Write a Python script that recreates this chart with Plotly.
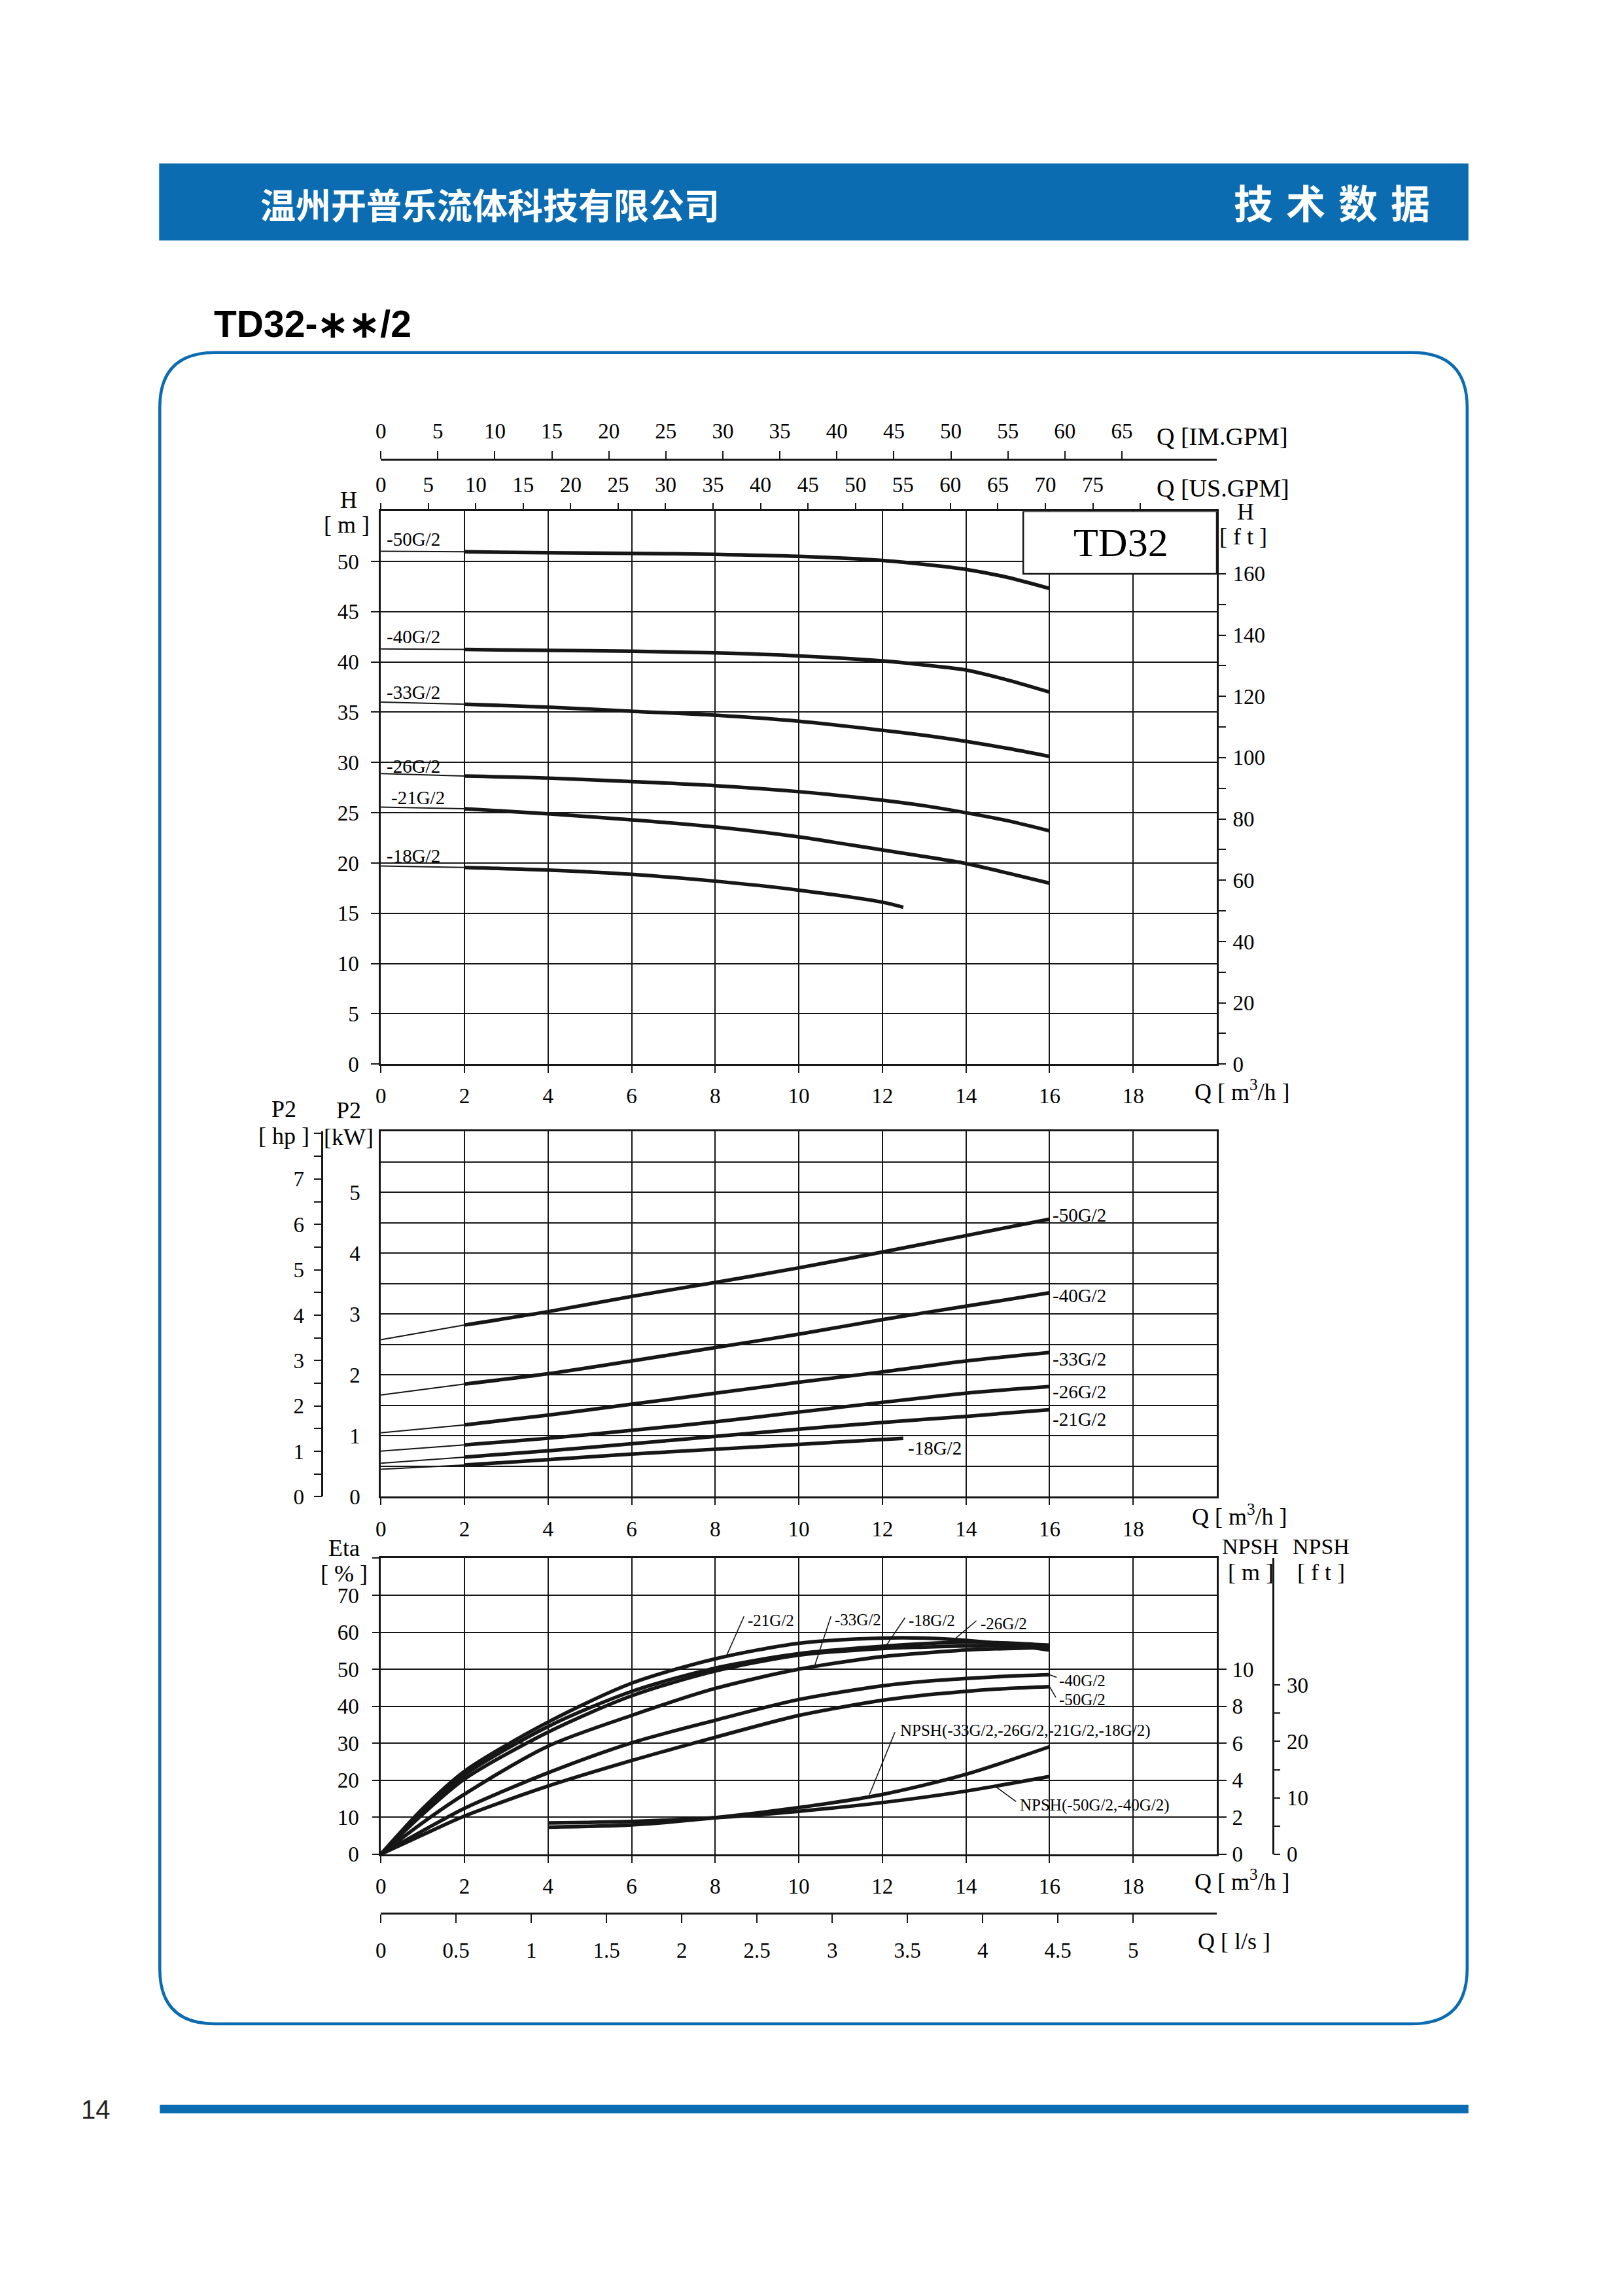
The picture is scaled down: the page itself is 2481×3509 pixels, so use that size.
import plotly.graph_objects as go

# the browser keeps its 8px body margin, so the figure is the page minus that border
PAGE_W, PAGE_H = 2481, 3509
PAD = 8
W, H = PAGE_W - 2 * PAD, PAGE_H - 2 * PAD

def px(x):
    return (x - PAD) / W

def py(y):
    return 1 - (y - PAD) / H

# ---------------- data ----------------
# head curves, Q in m3/h, H in m
q_h = [0, 2, 4, 6, 8, 10, 12, 13, 14, 15, 16]
h_50 = [51.0, 50.95, 50.86, 50.8, 50.7, 50.5, 50.1, 49.7, 49.2, 48.4, 47.3]
h_40 = [41.3, 41.24, 41.15, 41.06, 40.9, 40.6, 40.1, 39.7, 39.2, 38.2, 37.0]
h_33 = [36.0, 35.8, 35.5, 35.1, 34.7, 34.1, 33.2, 32.7, 32.1, 31.4, 30.6]
h_26 = [28.9, 28.65, 28.45, 28.1, 27.7, 27.1, 26.25, 25.7, 25.0, 24.2, 23.2]
h_21 = [25.56, 25.4, 24.9, 24.3, 23.6, 22.6, 21.3, 20.65, 19.95, 19.0, 18.0]
q_h18 = [0, 2, 4, 6, 8, 10, 12, 12.5]
h_18 = [19.7, 19.56, 19.3, 18.87, 18.2, 17.3, 16.1, 15.6]

# shaft power, kW
q_p = [0, 2, 4, 6, 8, 10, 12, 14, 16]
p_50 = [2.58, 2.82, 3.04, 3.29, 3.52, 3.76, 4.02, 4.29, 4.56]
p_40 = [1.67, 1.85, 2.02, 2.23, 2.45, 2.67, 2.91, 3.13, 3.35]
p_33 = [1.05, 1.18, 1.34, 1.52, 1.70, 1.88, 2.05, 2.23, 2.37]
p_26 = [0.75, 0.85, 0.96, 1.09, 1.23, 1.39, 1.55, 1.70, 1.81]
p_21 = [0.55, 0.65, 0.755, 0.87, 0.99, 1.11, 1.22, 1.32, 1.43]
q_p18 = [0, 2, 4, 6, 8, 10, 12, 12.5]
p_18 = [0.45, 0.52, 0.61, 0.70, 0.78, 0.86, 0.94, 0.96]

# efficiency, %
q_e = [0, 1, 2, 4, 6, 8, 10, 12, 13, 14, 15, 16]
eta_21 = [0, 12.3, 22.4, 35.7, 46.2, 52.8, 57.0, 58.4, 58.4, 57.8, 56.7, 55.2]
eta_26 = [0, 11.3, 21.4, 34.5, 44.0, 50.3, 54.2, 56.2, 56.9, 57.3, 57.1, 56.5]
eta_18 = [0, 10.8, 20.3, 33.0, 42.8, 49.5, 53.8, 55.6, 56.0, 56.3, 56.4, 56.3]
eta_33 = [0, 8.5, 16.2, 29.2, 37.5, 44.8, 50.0, 53.4, 54.4, 55.2, 55.6, 55.9]
eta_40 = [0, 6.3, 12.4, 22.0, 30.1, 36.2, 41.8, 45.5, 46.7, 47.5, 48.1, 48.5]
eta_50 = [0, 5.2, 10.3, 18.4, 25.3, 31.6, 37.5, 41.6, 43.0, 44.0, 44.8, 45.3]

# NPSH, m
q_n = [4, 6, 8, 10, 12, 14, 16]
npsh_small = [1.46, 1.58, 1.97, 2.52, 3.23, 4.32, 5.81]   # -33G/2 .. -18G/2
npsh_big = [1.69, 1.77, 1.97, 2.32, 2.79, 3.41, 4.2]      # -50G/2, -40G/2

q_ticks = [0, 2, 4, 6, 8, 10, 12, 14, 16, 18]
usgpm_ticks = list(range(0, 85, 5))
imgpm_ticks = list(range(0, 70, 5))
ls_ticks = [0, 0.5, 1, 1.5, 2, 2.5, 3, 3.5, 4, 4.5, 5]
ls_text = ["0", "0.5", "1", "1.5", "2", "2.5", "3", "3.5", "4", "4.5", "5"]

# ---------------- style ----------------
ink = "#161616"
blue = "#0b6cb1"
serif = "Liberation Serif"
thin, thick = 2, 5.5

# plot areas in page pixels
X0, X1 = 576, 1858
H_TOP, H_BOT = 772, 1626
P_TOP, P_BOT = 1730, 2294
E_TOP, E_BOT = 2389, 2846
xdom = [px(X0), px(X1)]

fig = go.Figure()

def curve(q, v, xa, ya, split=True):
    if split:
        fig.add_trace(go.Scatter(x=q[:2], y=v[:2], mode="lines", xaxis=xa, yaxis=ya,
                                 line=dict(color=ink, width=thin), hoverinfo="skip", showlegend=False))
        q, v = q[1:], v[1:]
    fig.add_trace(go.Scatter(x=q, y=v, mode="lines", xaxis=xa, yaxis=ya,
                             line=dict(color=ink, width=thick, shape="spline", smoothing=0.8),
                             hoverinfo="skip", showlegend=False))

for v in [h_50, h_40, h_33, h_26, h_21]:
    curve(q_h, v, "x", "y")
curve(q_h18, h_18, "x", "y")

for v in [p_50, p_40, p_33, p_26, p_21]:
    curve(q_p, v, "x4", "y3")
curve(q_p18, p_18, "x4", "y3")

for v in [eta_21, eta_26, eta_18, eta_33, eta_40, eta_50]:
    curve(q_e, v, "x5", "y5", split=False)
curve(q_n, npsh_small, "x5", "y6", split=False)
curve(q_n, npsh_big, "x5", "y6", split=False)

# empty traces so that the secondary unit scales get drawn
for xa, ya in [("x2", "y"), ("x3", "y"), ("x", "y2"), ("x4", "y4"), ("x5", "y7"), ("x6", "y5")]:
    fig.add_trace(go.Scatter(x=[], y=[], xaxis=xa, yaxis=ya, mode="lines",
                             hoverinfo="skip", showlegend=False))

tickfont = dict(family=serif, size=33, color="black")
base = dict(showline=True, linecolor=ink, linewidth=2.5, mirror=True, showgrid=True,
            gridcolor=ink, gridwidth=2, zeroline=False, tickfont=tickfont,
            ticks="outside", tickcolor=ink, tickwidth=2, fixedrange=True)
over = dict(showline=False, showgrid=False, zeroline=False, tickfont=tickfont,
            ticks="outside", tickcolor=ink, tickwidth=2)
free = dict(showline=True, linecolor=ink, linewidth=2.5, showgrid=False, zeroline=False,
            tickfont=tickfont, ticks="outside", tickcolor=ink, tickwidth=2)

fig.update_layout(
    width=W, height=H, margin=dict(l=0, r=0, t=0, b=0),
    paper_bgcolor="white", plot_bgcolor="white", showlegend=False,
    # head chart
    xaxis=dict(base, domain=xdom, anchor="y", range=[0, 20], tickvals=q_ticks, ticklen=11,
               ticklabelstandoff=6),
    yaxis=dict(base, domain=[py(H_BOT), py(H_TOP)], anchor="x", range=[0, 55],
               tickvals=list(range(0, 55, 5)), ticklen=12, ticklabelstandoff=12),
    xaxis2=dict(over, overlaying="x", anchor="y", side="top", range=[0, 20 * 4.40287],
                tickvals=usgpm_ticks, ticktext=[str(v) if v < 80 else " " for v in usgpm_ticks],
                ticklen=11, ticklabelstandoff=4),
    xaxis3=dict(free, overlaying="x", anchor="free", position=py(692), side="top",
                range=[0, 20 * 3.66615], tickvals=imgpm_ticks, ticklen=12, ticklabelstandoff=6),
    yaxis2=dict(over, overlaying="y", anchor="x", side="right", range=[0, 55 / 0.3048],
                tickvals=list(range(0, 180, 20)), ticklen=13, ticklabelstandoff=4,
                minor=dict(tickvals=list(range(10, 160, 20)), ticks="outside", ticklen=13,
                           tickcolor=ink, tickwidth=2, showgrid=False)),
    # power chart
    xaxis4=dict(base, domain=xdom, anchor="y3", range=[0, 20], tickvals=q_ticks, ticklen=10,
                ticklabelstandoff=8),
    yaxis3=dict(base, domain=[py(P_BOT), py(P_TOP)], anchor="x4", range=[0, 6],
                tickvals=[i * 0.5 for i in range(13)],
                ticktext=[str(i // 2) if i % 2 == 0 and i < 12 else " " for i in range(13)],
                ticks="", ticklabelstandoff=22),
    yaxis4=dict(free, overlaying="y3", anchor="free", position=px(486), side="left",
                range=[0, 6 / 0.7457], tickvals=[i * 0.5 for i in range(17)],
                ticktext=[str(i // 2) if i % 2 == 0 and i < 16 else " " for i in range(17)],
                ticklen=12, ticklabelstandoff=8),
    # efficiency / NPSH chart
    xaxis5=dict(base, domain=xdom, anchor="y5", range=[0, 20], tickvals=q_ticks, ticklen=10,
                ticklabelstandoff=8),
    yaxis5=dict(base, domain=[py(E_BOT), py(E_TOP)], anchor="x5", range=[0, 80],
                tickvals=list(range(0, 90, 10)),
                ticktext=[str(v) if v < 80 else " " for v in range(0, 90, 10)],
                ticklen=10, ticklabelstandoff=14),
    yaxis6=dict(over, overlaying="y5", anchor="x5", side="right", range=[0, 16],
                tickvals=[0, 2, 4, 6, 8, 10], ticklen=14, ticklabelstandoff=2),
    yaxis7=dict(free, overlaying="y5", anchor="free", position=px(1944), side="right",
                range=[0, 16 / 0.3048], tickvals=[0, 5, 10, 15, 20, 25, 30],
                ticktext=["0", " ", "10", " ", "20", " ", "30"], ticklen=10, ticklabelstandoff=3),
    xaxis6=dict(free, overlaying="x5", anchor="free", position=py(2937), side="bottom",
                range=[0, 20 / 3.6], tickvals=ls_ticks, ticktext=ls_text,
                ticklen=13, ticklabelstandoff=14),
)

# ---------------- page decoration ----------------
shapes = []
shapes.append(dict(type="rect", xref="paper", yref="paper", x0=px(236), x1=px(2244),
                   y0=py(354), y1=py(235), fillcolor=blue, line=dict(width=0), layer="below"))
shapes.append(dict(type="rect", xref="paper", yref="paper", x0=px(237), x1=px(2244),
                   y0=py(3246), y1=py(3233), fillcolor=blue, line=dict(width=0), layer="below"))

def rounded(x0, y0, x1, y1, r):
    return (f"M {px(x0 + r)},{py(y0)} L {px(x1 - r)},{py(y0)} "
            f"Q {px(x1)},{py(y0)} {px(x1)},{py(y0 + r)} L {px(x1)},{py(y1 - r)} "
            f"Q {px(x1)},{py(y1)} {px(x1 - r)},{py(y1)} L {px(x0 + r)},{py(y1)} "
            f"Q {px(x0)},{py(y1)} {px(x0)},{py(y1 - r)} L {px(x0)},{py(y0 + r)} "
            f"Q {px(x0)},{py(y0)} {px(x0 + r)},{py(y0)} Z")

shapes.append(dict(type="path", xref="paper", yref="paper", path=rounded(237, 527, 2242, 3108, 85),
                   line=dict(color=blue, width=4.5), layer="below"))

# TD32 name box in the head chart
shapes.append(dict(type="rect", xref="x", yref="y", x0=15.37, x1=20, y0=160 * 0.3048, y1=55,
                   fillcolor="white", line=dict(color=ink, width=2.5), layer="above"))

# leader lines in the efficiency chart
leaders = [(8.26, 53.4, 8.69, 64.3), (10.37, 50.6, 10.77, 64.3), (12.05, 55.7, 12.54, 63.9),
           (13.64, 57.3, 14.25, 63.1), (16.0, 48.5, 16.17, 47.8), (16.0, 45.3, 16.15, 42.4),
           (11.69, 16.1, 12.3, 33.0), (14.73, 18.1, 15.2, 14.2)]
for xa, ya, xb, yb in leaders:
    shapes.append(dict(type="line", xref="x5", yref="y5", x0=xa, y0=ya, x1=xb, y1=yb,
                       line=dict(color=ink, width=1.6), layer="above"))

fig.update_layout(shapes=shapes)

ann = []

def t(text, x, y, size=32, xanchor="center", yanchor="middle", xref="paper", yref="paper",
      family=serif, color="black"):
    if xref == "paper":
        x = px(x)
    if yref == "paper":
        y = py(y)
    ann.append(dict(text=text, x=x, y=y, xref=xref, yref=yref, xanchor=xanchor, yanchor=yanchor,
                    showarrow=False, font=dict(family=family, size=size, color=color)))

cjk = "Noto Sans CJK SC"
t("<b>温州开普乐流体科技有限公司</b>", 389, 297, size=54, xanchor="left", family=cjk, color="white")
for ch, cx in zip("技术数据", [1914, 1994, 2075, 2155]):
    t(f"<b>{ch}</b>", cx, 293, size=60, family=cjk, color="white")
t("<b>TD32-∗∗/2</b>", 318, 483, size=57, xanchor="left", family="Liberation Sans")
t("14", 139, 3240, size=40, family="Liberation Sans", color="#222222")

# head chart labels
t("Q [IM.GPM]", 1764, 657, size=38, xanchor="left")
t("Q [US.GPM]", 1764, 737, size=38, xanchor="left")
t("H", 527, 755, size=36)
t("[ m ]", 524, 793, size=36)
t("H", 1902, 773, size=36)
t("[ f t ]", 1899, 811, size=36)
t("Q [ m<sup>3</sup>/h ]", 1822, 1667, size=36, xanchor="left")
t("TD32", 17.7, 51.9, size=62, xref="x", yref="y")
for name, hx, hy in [("-50G/2", 0.1, 52.2), ("-40G/2", 0.1, 42.5), ("-33G/2", 0.1, 37.0),
                     ("-26G/2", 0.1, 29.6), ("-21G/2", 0.22, 26.5), ("-18G/2", 0.1, 20.7)]:
    t(name, hx, hy, size=29, xanchor="left", xref="x", yref="y")

# power chart labels
t("P2", 427, 1695, size=36)
t("[ hp ]", 427, 1737, size=36)
t("P2", 527, 1697, size=36)
t("[kW]", 527, 1739, size=36)
t("Q [ m<sup>3</sup>/h ]", 1818, 2322, size=36, xanchor="left")
for name, lx, ly in [("-50G/2", 16.04, 4.63), ("-40G/2", 16.04, 3.30), ("-33G/2", 16.04, 2.26),
                     ("-26G/2", 16.04, 1.72), ("-21G/2", 16.04, 1.27), ("-18G/2", 12.58, 0.80)]:
    t(name, lx, ly, size=29, xanchor="left", xref="x4", yref="y3")

# efficiency chart labels
t("Eta", 520, 2373, size=36)
t("[ % ]", 520, 2413, size=36)
t("NPSH", 1910, 2371, size=34)
t("[ m ]", 1910, 2411, size=36)
t("NPSH", 2018, 2371, size=34)
t("[ f t ]", 2018, 2411, size=36)
t("Q [ m<sup>3</sup>/h ]", 1822, 2886, size=36, xanchor="left")
t("Q [ l/s ]", 1827, 2981, size=36, xanchor="left")
for name, lx, ly in [("-21G/2", 8.75, 63.2), ("-33G/2", 10.83, 63.4), ("-18G/2", 12.6, 63.2),
                     ("-26G/2", 14.32, 62.3), ("-40G/2", 16.2, 47.0), ("-50G/2", 16.2, 41.8),
                     ("NPSH(-33G/2,-26G/2,-21G/2,-18G/2)", 12.4, 33.4),
                     ("NPSH(-50G/2,-40G/2)", 15.25, 13.2)]:
    t(name, lx, ly, size=25, xanchor="left", xref="x5", yref="y5")

fig.update_layout(annotations=ann)

fig.write_html("out.html", config={"displayModeBar": False})
